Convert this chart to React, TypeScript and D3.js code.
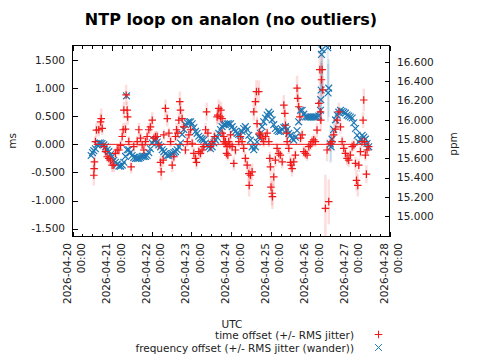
import React from "react";
import * as d3 from "d3";

const TITLE = "NTP loop on analon (no outliers)";
const X_TITLE = "UTC";
const Y_TITLE = "ms";
const Y2_TITLE = "ppm";
const START = Date.UTC(2026, 3, 20);
const DAY_LABELS = [
  "2026-04-20", "2026-04-21", "2026-04-22", "2026-04-23", "2026-04-24",
  "2026-04-25", "2026-04-26", "2026-04-27", "2026-04-28",
];
const MS_TICKS = [-1.5, -1, -0.5, 0, 0.5, 1, 1.5];
const PPM_TICKS = [15.0, 15.2, 15.4, 15.6, 15.8, 16.0, 16.2, 16.4, 16.6];
const SERIES_LABELS = [
  "time offset (+/- RMS jitter)",
  "frequency offset (+/- RMS jitter (wander))",
];

// [hours since 2026-04-20 00:00 UTC, offset ms, RMS jitter ms]
const timeOffset: [number, number, number][] = [
  [12.9,-0.55,0.18],[13.1,-0.43,0.15],[13.3,-0.31,0.14],[13.9,0.05,0.1],[14.5,0.255,0.12],[15.9,0.26,0.12],
  [17.0,0.40,0.15],[17.4,0.46,0.18],[18.0,0.285,0.12],[19.0,-0.04,0.1],[20.0,-0.13,0.1],[21.0,-0.22,0.1],
  [22.0,-0.25,0.1],[23.0,-0.28,0.1],[24.0,-0.37,0.12],[25.0,-0.37,0.12],[26.0,-0.16,0.1],[27.1,-0.10,0.1],
  [28.1,-0.10,0.1],[29.1,-0.02,0.1],[30.1,0.14,0.1],[30.7,0.26,0.12],[31.1,0.61,0.15],[32.1,0.27,0.12],
  [32.5,0.88,0.18],[33.1,0.61,0.15],[33.4,0.49,0.14],[34.1,0.05,0.1],[35.5,-0.40,0.12],[37.1,-0.04,0.1],
  [39.2,0.05,0.1],[40.2,0.26,0.12],[41.2,0.11,0.1],[42.2,-0.01,0.1],[43.2,-0.10,0.1],[44.2,0.05,0.1],
  [45.2,0.14,0.1],[46.2,0.26,0.12],[47.2,0.31,0.12],[48.3,0.43,0.14],[49.3,0.11,0.1],[50.3,0.14,0.1],
  [51.3,0.14,0.1],[52.3,-0.01,0.1],[53.3,-0.32,0.12],[53.7,-0.49,0.15],[54.9,-0.28,0.12],[55.3,0.17,0.1],
  [56.3,0.64,0.16],[57.4,0.46,0.14],[58.4,0.20,0.1],[59.4,0.05,0.1],[60.4,-0.37,0.12],[61.4,-0.22,0.1],
  [62.4,0.14,0.1],[63.0,0.26,0.12],[63.8,0.20,0.1],[64.4,0.43,0.14],[65.0,0.76,0.18],[65.4,0.61,0.15],
  [66.4,0.46,0.14],[67.4,0.31,0.12],[68.4,-0.10,0.1],[69.5,0.05,0.1],[70.5,0.17,0.1],[71.5,0.26,0.12],
  [72.5,0.02,0.1],[73.5,-0.16,0.1],[74.5,-0.25,0.1],[75.1,-0.32,0.12],[76.5,-0.13,0.1],[77.5,-0.16,0.1],
  [78.5,-0.10,0.1],[79.5,-0.04,0.1],[80.6,0.26,0.12],[81.2,0.58,0.16],[82.0,0.20,0.1],[83.6,-0.04,0.1],
  [84.6,0.05,0.1],[86.0,0.14,0.1],[87.6,0.49,0.14],[88.0,0.52,0.15],[88.6,0.64,0.16],[89.6,0.49,0.14],
  [89.9,0.61,0.15],[90.6,0.46,0.14],[90.7,0.20,0.1],[91.6,0.14,0.1],[91.7,0.05,0.1],[92.6,0.05,0.1],
  [92.7,0.02,0.1],[93.3,-0.16,0.1],[93.6,-0.04,0.1],[94.1,-0.19,0.1],[94.6,0.05,0.1],[95.3,-0.01,0.1],
  [95.7,0.17,0.1],[96.7,-0.04,0.1],[97.7,-0.34,0.12],[98.7,-0.10,0.1],[100.7,0.05,0.1],[101.7,0.14,0.1],
  [102.7,0.05,0.1],[103.7,-0.07,0.1],[104.7,-0.25,0.12],[105.8,-0.37,0.14],[106.8,-0.52,0.16],[107.0,-0.73,0.2],
  [107.8,-0.55,0.16],[108.8,-0.49,0.15],[109.8,0.58,0.16],[110.8,0.76,0.18],[111.4,0.94,0.2],[111.8,0.37,0.12],
  [112.8,0.94,0.2],[113.2,0.20,0.1],[113.8,0.17,0.1],[114.8,0.11,0.1],[115.8,0.05,0.1],[116.9,0.14,0.1],
  [117.9,0.20,0.1],[118.9,0.05,0.1],[119.5,-0.25,0.12],[119.9,-0.40,0.14],[120.2,-0.76,0.2],[120.9,-0.87,0.22],
  [121.1,-0.93,0.22],[121.9,-0.58,0.16],[122.9,-0.28,0.12],[123.9,-0.07,0.1],[124.9,-0.16,0.1],[125.9,-0.19,0.1],
  [127.0,-0.31,0.12],[128.0,0.70,0.18],[128.6,0.55,0.15],[129.0,0.34,0.12],[129.6,0.20,0.1],[130.0,0.05,0.1],
  [131.0,-0.07,0.1],[132.0,-0.32,0.12],[132.4,-0.37,0.12],[133.0,-0.43,0.14],[134.0,-0.31,0.12],[135.0,-0.19,0.1],
  [136.0,1.0,0.22],[136.4,0.82,0.2],[137.0,0.67,0.18],[137.7,0.49,0.15],[138.1,0.11,0.1],[139.1,0.17,0.1],
  [140.1,-0.13,0.1],[141.1,-0.16,0.1],[142.1,-0.19,0.1],[143.1,-0.04,0.1],[144.1,-0.01,0.1],[145.1,0.05,0.1],
  [146.1,0.08,0.1],[147.1,0.05,0.1],[148.1,0.255,0.12],[149.2,0.73,0.2],[149.8,1.33,0.3],[150.2,0.58,0.2],
  [150.4,0.43,0.2],[150.8,1.15,0.3],[151.2,1.33,0.3],[151.5,0.97,0.25],[153.2,-1.14,0.6],[154.2,-0.10,0.2],
  [155.2,-1.02,0.4],[156.2,0.02,0.15],[157.2,0.05,0.12],[158.2,0.17,0.12],[159.3,0.27,0.12],[160.3,0.43,0.14],
  [161.3,0.58,0.16],[162.3,0.31,0.12],[163.3,0.05,0.1],[164.3,-0.07,0.1],[165.3,-0.16,0.1],[166.3,-0.25,0.12],
  [167.3,-0.28,0.12],[168.3,-0.19,0.1],[169.4,-0.04,0.1],[170.4,-0.01,0.1],[171.4,-0.34,0.12],[172.0,-0.64,0.18],
  [172.8,-0.73,0.2],[173.4,-0.37,0.12],[174.4,-0.13,0.1],[175.4,0.05,0.1],[176.0,0.43,0.14],[176.4,0.79,0.2],
  [176.8,0.05,0.1],[177.4,-0.19,0.1],[178.0,-0.53,0.16],[178.4,-0.10,0.1],[179.4,-0.04,0.1],
];

// [hours since 2026-04-20 00:00 UTC, frequency ppm, wander ppm]
const freqOffset: [number, number, number][] = [
  [11.3,15.63,0.02],[12.1,15.66,0.02],[12.9,15.68,0.02],[13.9,15.70,0.02],[14.9,15.74,0.02],[15.9,15.76,0.02],
  [16.9,15.76,0.02],[17.9,15.755,0.02],[19.0,15.74,0.02],[20.0,15.72,0.02],[21.0,15.69,0.02],[22.0,15.67,0.02],
  [23.0,15.64,0.02],[24.0,15.62,0.02],[25.0,15.58,0.02],[26.0,15.56,0.02],[27.1,15.54,0.02],[28.1,15.52,0.02],
  [29.1,15.52,0.02],[30.1,15.53,0.02],[31.1,15.56,0.02],[32.1,15.62,0.02],[32.7,16.25,0.03],[33.1,15.69,0.02],
  [34.1,15.69,0.02],[35.1,15.66,0.02],[36.1,15.63,0.02],[37.1,15.61,0.02],[38.2,15.60,0.02],[39.2,15.60,0.02],
  [40.2,15.60,0.02],[41.2,15.61,0.02],[42.2,15.62,0.02],[43.2,15.62,0.02],[44.2,15.62,0.02],[45.2,15.63,0.02],
  [46.2,15.66,0.02],[47.2,15.70,0.02],[48.3,15.76,0.02],[49.3,15.79,0.02],[50.3,15.79,0.02],[51.3,15.77,0.02],
  [52.3,15.74,0.02],[53.3,15.72,0.02],[54.3,15.69,0.02],[55.3,15.67,0.02],[56.3,15.65,0.02],[57.4,15.63,0.02],
  [58.4,15.63,0.02],[59.4,15.64,0.02],[60.4,15.65,0.02],[61.4,15.66,0.02],[62.4,15.67,0.02],[63.4,15.69,0.02],
  [64.4,15.72,0.02],[65.4,15.76,0.02],[66.4,15.85,0.02],[67.4,15.90,0.02],[68.4,15.95,0.02],[69.5,15.97,0.02],
  [70.5,15.98,0.02],[71.5,15.98,0.02],[72.5,15.96,0.02],[73.5,15.92,0.02],[74.5,15.88,0.02],[75.5,15.86,0.02],
  [76.5,15.83,0.02],[77.5,15.81,0.02],[78.5,15.80,0.02],[79.5,15.79,0.02],[80.6,15.76,0.02],[81.6,15.74,0.02],
  [82.6,15.72,0.02],[83.6,15.70,0.02],[84.6,15.72,0.02],[85.6,15.76,0.02],[86.6,15.79,0.02],[87.6,15.82,0.02],
  [88.6,15.86,0.02],[89.6,15.90,0.02],[90.6,15.93,0.02],[91.6,15.95,0.02],[92.6,15.95,0.02],[93.6,15.96,0.02],
  [94.6,15.96,0.02],[95.7,15.96,0.02],[96.7,15.93,0.02],[97.7,15.90,0.02],[98.7,15.88,0.02],[99.7,15.86,0.02],
  [100.7,15.85,0.02],[101.7,15.84,0.02],[102.7,15.88,0.02],[103.7,15.91,0.02],[104.7,15.93,0.02],[105.8,15.90,0.02],
  [106.8,15.84,0.02],[107.8,15.79,0.02],[108.8,15.72,0.02],[109.8,15.69,0.02],[110.8,15.72,0.02],[111.8,15.77,0.02],
  [112.8,15.82,0.02],[113.8,15.86,0.02],[114.8,15.93,0.02],[115.8,15.98,0.02],[116.9,16.02,0.02],[117.9,16.05,0.02],
  [118.9,16.08,0.02],[119.9,16.06,0.02],[120.9,16.00,0.02],[121.9,15.95,0.02],[122.9,15.91,0.02],[123.9,15.89,0.02],
  [124.9,15.88,0.02],[125.9,15.88,0.02],[127.0,15.90,0.02],[128.0,15.92,0.02],[129.0,15.93,0.02],[130.0,15.90,0.02],
  [131.0,15.86,0.02],[132.0,15.84,0.02],[133.0,15.81,0.02],[134.0,15.79,0.02],[135.0,15.82,0.02],[136.0,15.89,0.02],
  [137.0,15.98,0.03],[138.1,16.10,0.03],[139.1,16.10,0.03],[140.1,16.06,0.02],[141.1,16.03,0.02],[142.1,16.03,0.02],
  [143.1,16.03,0.02],[144.1,16.03,0.02],[145.1,16.03,0.02],[146.1,16.03,0.02],[147.1,16.03,0.02],[148.1,16.03,0.02],
  [149.2,16.04,0.03],[150.2,16.10,0.1],[150.4,16.21,0.2],[150.6,16.31,0.3],[150.8,16.68,0.4],[151.2,16.73,0.4],
  [154.6,16.75,0.4],[154.8,16.28,0.3],[155.2,16.33,0.3],[156.2,15.75,0.2],[156.6,15.72,0.15],[157.2,15.80,0.1],
  [158.2,15.90,0.08],[159.3,16.00,0.06],[160.3,16.05,0.04],[161.3,16.08,0.03],[162.3,16.10,0.03],[163.3,16.09,0.03],
  [164.3,16.08,0.02],[165.3,16.07,0.02],[166.3,16.05,0.02],[167.3,16.04,0.02],[168.3,16.03,0.02],[169.4,16.02,0.02],
  [170.4,15.97,0.02],[171.4,15.91,0.02],[172.4,15.84,0.02],[173.4,15.77,0.02],[174.4,15.80,0.02],[175.4,15.84,0.02],
  [176.4,15.82,0.02],[177.4,15.80,0.02],[178.4,15.755,0.02],[179.4,15.72,0.02],
];

const RED = "#f01818";
const BLUE = "#1f78b4";
const FONT = "DejaVu Sans, sans-serif";

export default function App() {
  const W = 480, H = 360;
  const L = 72.5, R = 389.5, T = 45.5, B = 236.5;
  const toDate = (h: number) => new Date(START + h * 3600e3);
  const x = d3.scaleUtc().domain([new Date(START), new Date(START + 8 * 864e5)]).range([L, R]);
  const y = d3.scaleLinear().domain([-1.64, 1.76]).range([B, T]);
  const y2 = d3.scaleLinear().domain([14.788, 16.773]).range([B, T]);

  const dayTicks = x.ticks(d3.utcDay.every(1) as any);
  const minorTicks = x.ticks(d3.utcHour.every(6) as any).filter((d: Date) => d.getUTCHours() !== 0);

  const plus = (px: number, py: number, s = 3.8) => `M${px - s},${py}H${px + s}M${px},${py - s}V${py + s}`;
  const cross = (px: number, py: number, s = 3.4) => `M${px - s},${py - s}L${px + s},${py + s}M${px - s},${py + s}L${px + s},${py - s}`;

  const tFirst = timeOffset[0][0];
  const tLast = timeOffset[timeOffset.length - 1][0];

  return (
    <svg width={W} height={H} style={{ position: "absolute", left: 0, top: 0, background: "#fff" }} fontFamily={FONT}>
      <defs>
        <clipPath id="plotclip">
          <rect x={L} y={T} width={R - L} height={B - T} />
        </clipPath>
      </defs>
      <text x={231} y={25} textAnchor="middle" fontSize={16} fontWeight="bold">{TITLE}</text>

      <g clipPath="url(#plotclip)">
        {timeOffset.map((d, i) => (
          <line key={"te" + i} x1={x(toDate(d[0]))} x2={x(toDate(d[0]))} y1={y(d[1] - d[2])} y2={y(d[1] + d[2])}
            stroke={RED} strokeOpacity={0.14} strokeWidth={2.5} />
        ))}
        {freqOffset.map((d, i) => (
          <line key={"fe" + i} x1={x(toDate(d[0]))} x2={x(toDate(d[0]))} y1={y2(d[1] - d[2])} y2={y2(d[1] + d[2])}
            stroke={BLUE} strokeOpacity={0.15} strokeWidth={2} />
        ))}
        {freqOffset.map((d, i) => (
          <path key={"fm" + i} d={cross(x(toDate(d[0])), y2(d[1]))} stroke={BLUE} strokeWidth={1.2} fill="none" />
        ))}
        {timeOffset.map((d, i) => (
          <path key={"tm" + i} d={plus(x(toDate(d[0])), y(d[1]))} stroke={RED} strokeWidth={1.2} fill="none" />
        ))}
        <line x1={x(toDate(tFirst))} x2={x(toDate(tLast))} y1={y(0)} y2={y(0)} stroke={RED} strokeWidth={1} />
      </g>

      <rect x={L} y={T} width={R - L} height={B - T} fill="none" stroke="#000" strokeWidth={1} shapeRendering="crispEdges" />

      <g stroke="#000" strokeWidth={1} shapeRendering="crispEdges">
        {dayTicks.map((d: Date, i: number) => (
          <g key={"xt" + i}>
            <line x1={Math.round(x(d)) + 0.5} x2={Math.round(x(d)) + 0.5} y1={B} y2={B - 5} />
            <line x1={Math.round(x(d)) + 0.5} x2={Math.round(x(d)) + 0.5} y1={T} y2={T + 5} />
          </g>
        ))}
        {minorTicks.map((d: Date, i: number) => (
          <g key={"xm" + i}>
            <line x1={Math.round(x(d)) + 0.5} x2={Math.round(x(d)) + 0.5} y1={B} y2={B - 3} />
            <line x1={Math.round(x(d)) + 0.5} x2={Math.round(x(d)) + 0.5} y1={T} y2={T + 3} />
          </g>
        ))}
        {MS_TICKS.map((v, i) => (
          <line key={"yt" + i} x1={L} x2={L + 5} y1={Math.round(y(v)) + 0.5} y2={Math.round(y(v)) + 0.5} />
        ))}
        {PPM_TICKS.map((v, i) => (
          <line key={"y2t" + i} x1={R} x2={R - 5} y1={Math.round(y2(v)) + 0.5} y2={Math.round(y2(v)) + 0.5} />
        ))}
      </g>

      <g fontSize={10.5} fill="#222">
        {MS_TICKS.map((v, i) => (
          <text key={"yl" + i} x={65} y={y(v) + 3.8} textAnchor="end">{v.toFixed(3)}</text>
        ))}
        {PPM_TICKS.map((v, i) => (
          <text key={"y2l" + i} x={397} y={y2(v) + 3.8} textAnchor="start">{v.toFixed(3)}</text>
        ))}
        {dayTicks.map((d: Date, i: number) => (
          <text key={"xl" + i} transform={`translate(${x(d)},243) rotate(-90)`} textAnchor="end">
            <tspan x={0} y={-2}>{DAY_LABELS[i]}</tspan>
            <tspan x={0} y={12.5}>00:00</tspan>
          </text>
        ))}
      </g>

      <g fontSize={10.5} fill="#222">
        <text transform="translate(16,141) rotate(-90)" textAnchor="middle">{Y_TITLE}</text>
        <text transform="translate(457,144) rotate(-90)" textAnchor="middle">{Y2_TITLE}</text>
        <text x={232} y={327.5} textAnchor="middle">{X_TITLE}</text>
      </g>

      <g fontSize={10.5} fill="#222">
        <text x={354} y={338.5} textAnchor="end">{SERIES_LABELS[0]}</text>
        <text x={354} y={352} textAnchor="end">{SERIES_LABELS[1]}</text>
        <path d={plus(378.5, 334.5)} stroke={RED} strokeWidth={1} />
        <path d={cross(378.5, 347.5)} stroke={BLUE} strokeWidth={1} />
      </g>
    </svg>
  );
}
